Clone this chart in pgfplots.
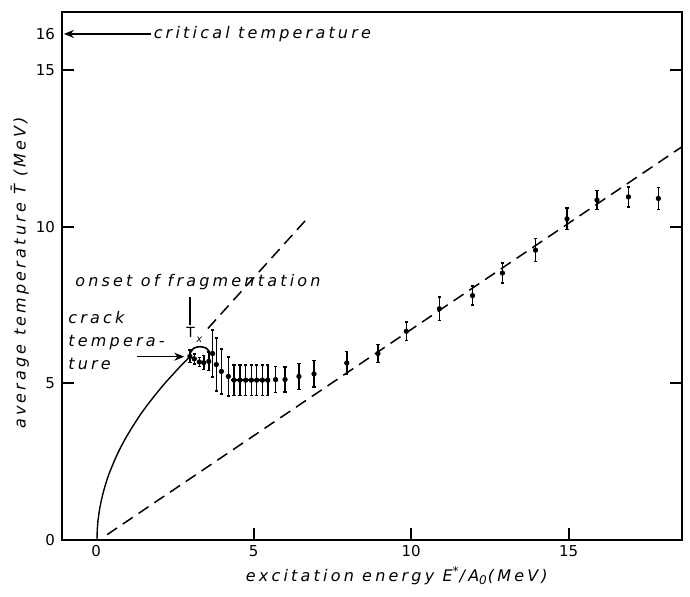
\documentclass[border=0pt]{standalone}
\usepackage{fontspec}
\setmainfont{DejaVu Sans}
\newfontfamily\hand[LetterSpace=20]{DejaVu Sans}
\usepackage{pgfplots}
\usepackage{pgfplotstable}
\pgfplotsset{compat=1.18}
\usetikzlibrary{arrows.meta}

\pgfplotstableread{
x y e
2.98 5.86 0.20
3.12 5.78 0.16
3.28 5.68 0.15
3.42 5.66 0.22
3.58 5.70 0.30
3.70 5.95 0.75
3.82 5.60 0.85
3.98 5.38 0.72
4.20 5.22 0.62
4.38 5.10 0.48
4.57 5.10 0.48
4.75 5.10 0.48
4.93 5.10 0.48
5.10 5.10 0.48
5.28 5.10 0.48
5.45 5.10 0.48
5.70 5.12 0.42
6.00 5.12 0.40
6.44 5.22 0.42
6.92 5.30 0.42
7.96 5.65 0.37
8.95 5.95 0.28
9.85 6.66 0.30
10.90 7.38 0.38
11.95 7.80 0.30
12.90 8.52 0.32
13.95 9.25 0.37
14.95 10.25 0.35
15.90 10.85 0.30
16.90 10.95 0.32
17.85 10.90 0.35
}\datatable

\begin{document}
\begin{tikzpicture}
\begin{axis}[
  scale only axis,
  width=310pt, height=264pt,
  xmin=-1.08, xmax=18.6,
  ymin=0, ymax=16.85,
  axis line style={line width=1.2pt},
  clip=false,
  tick align=inside,
  major tick length=6pt,
  every tick/.style={black, line width=1pt},
  xtick={5,10,15},
  extra x ticks={0},
  extra x tick style={major tick length=0pt},
  xtick pos=bottom,
  ytick={5,10,15},
  ytick pos=both,
  yticklabel pos=left,
  extra y ticks={0,16.15},
  extra y tick labels={0,16},
  extra y tick style={major tick length=0pt, yticklabel pos=left},
  /pgf/number format/assume math mode=true,
  ticklabel style={font=\fontsize{7.5}{8}\selectfont},
  xticklabel style={yshift=1pt},
  xlabel={excitation energy \textit{E}\textsuperscript{*}/\textit{A}\textsubscript{0}(MeV)},
  xlabel style={font=\hand\itshape\fontsize{8}{9}\selectfont, at={(rel axis cs:0.54,-0.068)}, anchor=center},
  ylabel={average temperature \={T} (MeV)},
  ylabel style={font=\hand\itshape\fontsize{8}{9}\selectfont, at={(rel axis cs:-0.068,0.506)}, anchor=center},
]
% solid curve to crack temperature
\addplot[black, line width=0.7pt] coordinates {
(0.03,0) (0.04,0.34) (0.06,0.59) (0.09,0.83) (0.12,1.02) (0.17,1.27) (0.22,1.48) (0.28,1.70) (0.35,1.93) (0.42,2.13) (0.5,2.33) (0.6,2.57) (0.7,2.79) (0.82,3.03) (0.95,3.27) (1.1,3.52) (1.25,3.76) (1.42,4.02) (1.6,4.27) (1.8,4.53) (2.0,4.78) (2.2,5.02) (2.4,5.24) (2.58,5.44) (2.75,5.62) (2.88,5.75) (3.0,5.87)};
% lower dashed line
\addplot[black, line width=0.75pt, dash pattern=on 6pt off 3.5pt] coordinates {(0.35,0.17) (18.6,12.55)};
% upper dashed line
\addplot[black, line width=0.75pt, dash pattern=on 6pt off 3.5pt] coordinates {(3.55,6.75) (6.65,10.2)};
% data with error bars
\addplot[black, only marks, mark=*, mark size=1.1pt,
  error bars/.cd, y dir=both, y explicit,
  error bar style={line width=0.8pt},
  error mark options={rotate=90, mark size=0.8pt, line width=0.7pt}]
  table[x=x, y=y, y error=e] {\datatable};
% horizontal plateau segment
\addplot[black, line width=1pt] coordinates {(4.3,5.12) (5.5,5.12)};
% bracket
\addplot[black, line width=0.8pt, smooth] coordinates {(2.98,5.95) (3.1,6.12) (3.3,6.17) (3.5,6.12) (3.62,5.98)};
% critical temperature arrow
\draw[-{Stealth[length=5pt,width=4pt]}, line width=0.8pt] (axis cs:1.75,16.15) -- (axis cs:-1.02,16.15);
\node[anchor=west, font=\hand\itshape\fontsize{8}{9}\selectfont, inner sep=0pt] at (axis cs:1.82,16.15) {critical temperature};
% onset of fragmentation
\node[anchor=west, font=\hand\itshape\fontsize{8}{9}\selectfont, inner sep=0pt] at (axis cs:-0.67,8.24) {onset of fragmentation};
\draw[line width=0.8pt] (axis cs:2.98,7.75) -- (axis cs:2.98,6.85);
\node[font=\fontsize{7}{8}\selectfont, inner sep=0pt] at (axis cs:3.0,6.62) {T};
\node[font=\itshape\fontsize{5}{6}\selectfont, inner sep=0pt] at (axis cs:3.28,6.38) {x};
% crack temperature
\node[anchor=north west, align=left, font=\hand\itshape\fontsize{8}{11.5}\selectfont, inner sep=0pt] at (axis cs:-0.89,7.3) {crack\\tempera-\\ture};
\draw[-{Stealth[length=5pt,width=4pt]}, line width=0.8pt] (axis cs:1.3,5.85) -- (axis cs:2.8,5.85);
\end{axis}
\coordinate (BL) at ([shift={(-31pt,-28pt)}]current axis.south west);
\coordinate (TR) at ([shift={(4pt,6pt)}]current axis.north east);
\pgfresetboundingbox
\path[use as bounding box] (BL) rectangle (TR);
\end{tikzpicture}
\end{document}
